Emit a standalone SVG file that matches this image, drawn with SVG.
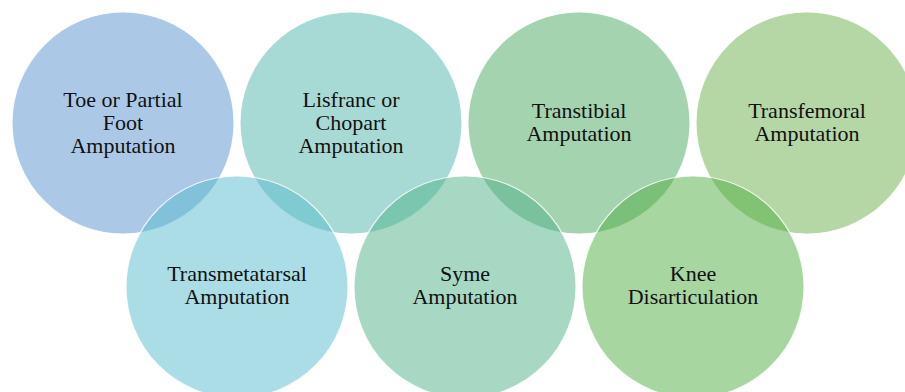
<svg xmlns="http://www.w3.org/2000/svg" width="905" height="392" viewBox="0 0 905 392">
<style>
circle{fill-opacity:0.5;stroke:#ffffff;stroke-width:1.2;stroke-opacity:0.8}
text{font-size:22px;fill:#111111;text-anchor:middle}
</style>
<rect width="905" height="392" fill="#ffffff"/>
<g font-family="Liberation Serif, DejaVu Serif, serif">
<g id="n1"><circle cx="123" cy="123" r="111" fill="#5793CF"/><text x="123" y="107">Toe or Partial</text><text x="123" y="130">Foot</text><text x="123" y="153">Amputation</text></g>
<g id="n2"><circle cx="351" cy="123" r="111" fill="#51B5AB"/><text x="351" y="107">Lisfranc or</text><text x="351" y="130">Chopart</text><text x="351" y="153">Amputation</text></g>
<g id="n3"><circle cx="579" cy="123" r="111" fill="#49A761"/><text x="579" y="118">Transtibial</text><text x="579" y="141">Amputation</text></g>
<g id="n4"><circle cx="807" cy="123" r="111" fill="#6BAD4B"/><text x="807" y="118">Transfemoral</text><text x="807" y="141">Amputation</text></g>
<g id="n5"><circle cx="237" cy="287" r="111" fill="#57BBCD"/><text x="237" y="281">Transmetatarsal</text><text x="237" y="304">Amputation</text></g>
<g id="n6"><circle cx="465" cy="287" r="111" fill="#4DB189"/><text x="465" y="281">Syme</text><text x="465" y="304">Amputation</text></g>
<g id="n7"><circle cx="693" cy="287" r="111" fill="#4FAD41"/><text x="693" y="281">Knee</text><text x="693" y="304">Disarticulation</text></g>
</g>
<g id="connectors"></g>
</svg>
